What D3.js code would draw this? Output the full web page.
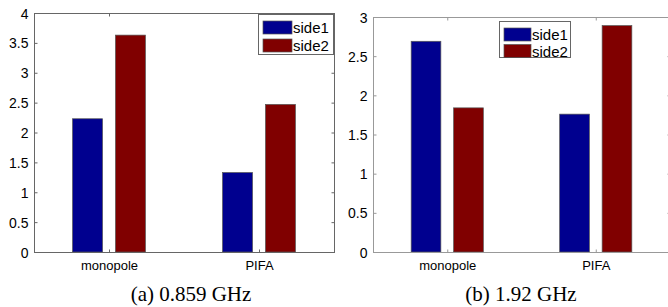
<!DOCTYPE html>
<html><head><meta charset="utf-8">
<script src="https://cdn.jsdelivr.net/npm/d3@7"></script>
<style>html,body{margin:0;padding:0;background:#fff;overflow:hidden}</style>
</head><body>
<svg id="c" width="668" height="307"></svg>
<script>
const categories = ["monopole", "PIFA"];
const seriesNames = ["side1", "side2"];
const seriesColors = ["#00008F", "#800000"];
const side1_a = [2.23, 1.33];
const side2_a = [3.63, 2.47];
const side1_b = [2.69, 1.76];
const side2_b = [1.84, 2.89];
const yTicks_a = [0, 0.5, 1, 1.5, 2, 2.5, 3, 3.5, 4];
const yTicks_b = [0, 0.5, 1, 1.5, 2, 2.5, 3];
const caption_a = "(a) 0.859 GHz";
const caption_b = "(b) 1.92 GHz";

const svg = d3.select("#c");
const SANS = "Liberation Sans, Arial, sans-serif";

function panel(o) {
  const g = svg.append("g");
  const x = d3.scaleLinear().domain([0.5, 2.5]).range([o.left, o.right]);
  const y = d3.scaleLinear().domain([0, o.ymax]).range([o.bottom, o.top]);
  const off = 0.143, bw = 0.2;
  const series = [o.s1, o.s2];
  // bars
  series.forEach((vals, si) => {
    g.selectAll(null).data(vals).enter().append("rect")
      .attr("x", (d, i) => x(i + 1 + (si === 0 ? -off : off) - bw / 2))
      .attr("width", x(bw) - x(0))
      .attr("y", d => y(d))
      .attr("height", d => y(0) - y(d))
      .attr("fill", seriesColors[si])
      .attr("stroke", "#555").attr("stroke-width", 0.7);
  });
  // box
  const bc = o.boxColor;
  g.append("rect").attr("x", o.left + 0.5).attr("y", o.top + 0.5)
    .attr("width", o.right - o.left).attr("height", o.bottom - o.top)
    .attr("fill", "none").attr("stroke", bc).attr("stroke-width", 1);
  // axes (ticks inward)
  const ya = d3.axisLeft(y).tickValues(o.yTicks).tickSize(-3).tickPadding(6).tickFormat(d3.format("~g"));
  const yg = g.append("g").attr("transform", `translate(${o.left + 0.5},0)`).call(ya);
  const yr = d3.axisRight(y).tickValues(o.yTicks).tickSize(-3).tickFormat("");
  g.append("g").attr("transform", `translate(${o.right + 0.5},0)`).call(yr);
  const xa = d3.axisBottom(x).tickValues([1, 2]).tickSize(-3).tickPadding(8).tickFormat(d => categories[d - 1]);
  const xg = g.append("g").attr("transform", `translate(0,${o.bottom + 0.5})`).call(xa);
  const xt = d3.axisTop(x).tickValues([1, 2]).tickSize(-3).tickFormat("");
  g.append("g").attr("transform", `translate(0,${o.top + 0.5})`).call(xt);
  g.selectAll(".domain").remove();
  g.selectAll(".tick line").attr("stroke", bc);
  yg.selectAll(".tick text").attr("font-family", SANS).attr("font-size", 14).attr("fill", "#000").attr("dy", "0.36em");
  xg.selectAll(".tick text").attr("font-family", SANS).attr("font-size", 13).attr("fill", "#000");
  // legend
  const L = o.legend;
  const lg = g.append("g");
  lg.append("rect").attr("x", L.x + 0.5).attr("y", L.y + 0.5).attr("width", L.w).attr("height", L.h)
    .attr("fill", "#fff").attr("stroke", "#666").attr("stroke-width", 1);
  seriesNames.forEach((n, i) => {
    lg.append("rect").attr("x", L.x + 5).attr("y", L.y + 7 + i * L.step).attr("width", L.sw).attr("height", 13)
      .attr("fill", seriesColors[i]).attr("stroke", "#555").attr("stroke-width", 0.7);
    lg.append("text").attr("x", L.x + L.sw + 6).attr("y", L.y + 19 + i * L.step).text(n)
      .attr("font-family", SANS).attr("font-size", 15).attr("fill", "#000");
  });
  // caption
  svg.append("text").attr("x", o.capX).attr("y", 301).attr("text-anchor", "middle")
    .attr("font-family", "Liberation Serif, Times New Roman, serif").attr("font-size", 21).attr("fill", "#000")
    .text(o.caption);
}

panel({id: "a", left: 34, right: 334, top: 13, bottom: 252, ymax: 4, yTicks: yTicks_a,
  s1: side1_a, s2: side2_a, boxColor: "#666", legend: {x: 258, y: 14, w: 75, h: 40, sw: 29, step: 18},
  caption: caption_a, capX: 191});
panel({id: "b", left: 373, right: 670, top: 17, bottom: 252, ymax: 3, yTicks: yTicks_b,
  s1: side1_b, s2: side2_b, boxColor: "#999", legend: {x: 499, y: 21, w: 71, h: 36, sw: 27, step: 16.5},
  caption: caption_b, capX: 521});
</script>
</body></html>
